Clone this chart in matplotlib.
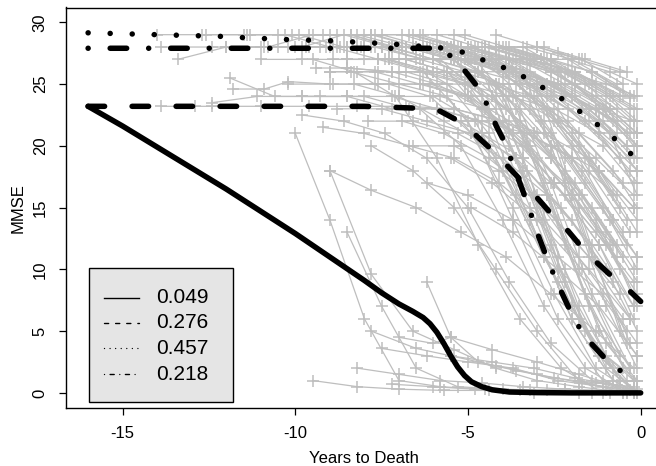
import matplotlib
matplotlib.use("Agg")
import matplotlib.pyplot as plt
from matplotlib.patches import Rectangle

plt.rcParams['font.family'] = ['Liberation Sans', 'DejaVu Sans']
plt.rcParams['axes.unicode_minus'] = False

# ---------------- data ----------------
legend_labels = ["0.049", "0.276", "0.457", "0.218"]
x_ticks = [-15, -10, -5, 0]
y_ticks = [0, 5, 10, 15, 20, 25, 30]

# class mean curves
early_t = [-16, -15, -14, -13, -12, -11, -10, -9, -8, -7.5, -7, -6.6, -6.3, -6.1, -5.9, -5.7, -5.5, -5.3,
           -5.1, -4.9, -4.6, -4.3, -3.8, -3.0, -2.0, -1.0, 0.0]
early_y = [23.2, 21.6, 19.9, 18.2, 16.5, 14.7, 12.9, 11.0, 9.1, 8.1, 7.2, 6.6, 6.1, 5.6, 4.9, 4.0, 3.0, 2.1,
           1.4, 0.9, 0.5, 0.25, 0.07, 0.02, 0.0, 0.0, 0.0]

moderate_t = [-16, -12, -8, -7, -6.5, -6.0, -5.8, -5.4, -5.0, -4.75, -4.4, -4.0, -3.5, -3.0, -2.5,
              -2.1, -1.8, -1.25, -0.9, -0.3, 0.0]
moderate_y = [23.2, 23.2, 23.2, 23.1, 23.05, 22.95, 22.8, 22.2, 21.4, 20.8, 19.9, 18.8, 17.3, 15.8,
              14.2, 13.1, 12.1, 10.5, 9.6, 8.2, 7.4]

stable_t = [-16, -14, -12, -11.45, -10.2, -8.9, -7.6, -6.96, -5.65, -5.02, -4.44, -3.83, -3.25,
            -2.7, -2.15, -1.63, -1.1, -0.64, -0.15, 0.0]
stable_y = [29.15, 29.0, 28.85, 28.75, 28.6, 28.5, 28.3, 28.2, 27.9, 27.5, 26.8, 26.2, 25.4,
            24.5, 23.6, 22.5, 21.4, 20.3, 19.0, 18.7]

fast_t = [-16, -12, -8, -6.0, -5.8, -5.45, -5.07, -4.73, -4.44, -4.18, -3.94, -3.7, -3.5, -3.3,
          -3.0, -2.7, -2.4, -2.1, -1.8, -1.4, -1.0, -0.5, -0.2]
fast_y = [27.9, 27.9, 27.9, 27.9, 27.75, 27.2, 26.0, 24.8, 23.3, 21.6, 20.3, 18.5, 17.0, 15.5,
          13.0, 10.8, 8.8, 7.0, 5.4, 3.9, 2.7, 1.6, 1.2]

# individual subject trajectories: (years to death, MMSE)
stable_subjects = [
    [(-14.0, 29), (-12.7, 29), (-11.4, 29), (-10.1, 29), (-8.8, 29), (-7.5, 29), (-6.2, 28), (-4.9, 28), (-3.6, 27), (-2.3, 26), (-1.0, 24), (-0.2, 22)],
    [(-13.9, 28), (-12.4, 28), (-11.0, 28), (-9.6, 28), (-8.2, 28), (-6.9, 28), (-5.5, 28), (-4.1, 27), (-2.7, 25), (-1.3, 23), (-0.1, 20)],
    [(-13.4, 27), (-12.0, 28), (-10.5, 28), (-9.1, 28), (-7.7, 28), (-6.3, 27), (-4.9, 27), (-3.5, 25), (-2.1, 23), (-0.6, 19)],
    [(-12.6, 29), (-11.3, 29), (-9.9, 29), (-8.6, 28), (-7.3, 28), (-6.0, 28), (-4.6, 27), (-3.3, 27), (-1.9, 25), (-0.4, 21)],
    [(-12.0, 28), (-10.8, 28), (-9.5, 29), (-8.2, 29), (-6.8, 28), (-5.5, 28), (-4.2, 28), (-2.9, 27), (-1.5, 25), (-0.3, 23)],
    [(-11.5, 29), (-10.3, 29), (-9.0, 28), (-7.8, 28), (-6.5, 28), (-5.2, 27), (-3.9, 26), (-2.6, 24), (-1.2, 21), (-0.1, 17)],
    [(-10.9, 28), (-9.7, 28), (-8.5, 28), (-7.2, 28), (-5.9, 28), (-4.6, 27), (-3.3, 26), (-2.0, 24), (-0.7, 22)],
    [(-10.5, 29), (-9.2, 29), (-8.0, 29), (-6.7, 29), (-5.4, 28), (-4.1, 28), (-2.8, 27), (-1.4, 26), (-0.2, 24)],
    [(-10.0, 28), (-8.8, 28), (-7.5, 28), (-6.3, 27), (-5.0, 27), (-3.7, 26), (-2.4, 25), (-1.1, 22), (-0.1, 19)],
    [(-9.6, 29), (-8.4, 29), (-7.1, 28), (-5.8, 28), (-4.5, 28), (-3.2, 27), (-1.9, 26), (-0.5, 24)],
    [(-9.3, 28), (-8.0, 28), (-6.8, 28), (-5.5, 27), (-4.2, 27), (-2.9, 25), (-1.6, 22), (-0.3, 18)],
    [(-9.0, 29), (-7.8, 29), (-6.5, 28), (-5.2, 28), (-3.9, 27), (-2.6, 26), (-1.3, 24), (-0.1, 21)],
    [(-8.7, 28), (-7.5, 28), (-6.2, 28), (-5.0, 28), (-3.7, 27), (-2.4, 26), (-1.1, 23), (-0.2, 20)],
    [(-8.4, 29), (-7.2, 28), (-5.9, 28), (-4.6, 28), (-3.3, 28), (-2.0, 27), (-0.7, 25)],
    [(-8.1, 28), (-6.9, 28), (-5.6, 28), (-4.3, 27), (-3.0, 25), (-1.7, 23), (-0.4, 20)],
    [(-7.8, 29), (-6.6, 29), (-5.3, 28), (-4.0, 28), (-2.7, 27), (-1.4, 25), (-0.2, 23)],
    [(-7.5, 28), (-6.3, 28), (-5.1, 27), (-3.8, 27), (-2.5, 25), (-1.2, 22), (-0.1, 18)],
    [(-7.2, 27), (-6.0, 27), (-4.8, 27), (-3.5, 26), (-2.2, 24), (-0.9, 21), (-0.1, 16)],
    [(-6.9, 29), (-5.7, 28), (-4.5, 28), (-3.2, 27), (-1.9, 26), (-0.6, 24)],
    [(-6.6, 28), (-5.4, 28), (-4.2, 28), (-2.9, 27), (-1.6, 25), (-0.3, 22)],
    [(-6.3, 29), (-5.1, 29), (-3.9, 28), (-2.6, 27), (-1.3, 25), (-0.1, 23)],
    [(-6.0, 27), (-4.8, 27), (-3.6, 26), (-2.3, 25), (-1.0, 23), (-0.1, 20)],
    [(-5.7, 28), (-4.5, 28), (-3.3, 27), (-2.0, 26), (-0.8, 24)],
    [(-5.4, 29), (-4.2, 28), (-3.0, 28), (-1.7, 27), (-0.5, 25)],
    [(-5.0, 28), (-3.8, 27), (-2.6, 26), (-1.4, 24), (-0.2, 21)],
    [(-4.6, 27), (-3.4, 27), (-2.2, 26), (-1.0, 25), (-0.1, 24)],
    [(-4.2, 29), (-3.0, 28), (-1.8, 27), (-0.6, 26)],
    [(-3.8, 28), (-2.6, 27), (-1.4, 26), (-0.3, 24)],
    [(-3.3, 27), (-2.1, 27), (-0.9, 26), (-0.1, 25)],
    [(-2.8, 28), (-1.6, 27), (-0.4, 26)],
    [(-2.4, 27.5), (-0.3, 23.9)],
    [(-13.9, 23.2), (-12.9, 23.2), (-12.4, 23.2), (-11.0, 23.2), (-9.6, 23.2), (-8.2, 23.2), (-6.8, 23.2), (-5.4, 23), (-4.0, 22), (-2.6, 20), (-1.2, 18), (-0.2, 15)],
    [(-11.8, 24.6), (-10.9, 24.6), (-10.2, 25.2), (-9.0, 25), (-7.7, 25), (-6.4, 25), (-5.1, 25), (-3.8, 24), (-2.5, 23), (-1.2, 21), (-0.1, 18)],
    [(-10.2, 25.0), (-8.9, 25), (-7.6, 25), (-6.3, 25), (-5.0, 24), (-3.7, 24), (-2.4, 22), (-1.1, 20), (-0.2, 17)],
    [(-9.4, 26.3), (-8.5, 26.3), (-7.2, 26), (-5.9, 26), (-4.6, 26), (-3.3, 25), (-2.0, 24), (-0.8, 22)],
    [(-12.4, 23.5), (-11.1, 24), (-9.8, 24), (-8.5, 24), (-7.2, 24), (-5.9, 23), (-4.6, 22), (-3.3, 21), (-2.0, 19), (-0.7, 16)],
    [(-11.9, 25.5), (-10.6, 24), (-9.3, 24), (-8.0, 24), (-6.7, 23), (-5.4, 23), (-4.1, 22), (-2.8, 21), (-1.5, 19), (-0.2, 15)],
    [(-9.8, 28), (-8.6, 29), (-7.3, 28), (-6.1, 28), (-4.8, 27), (-3.5, 27), (-2.2, 25), (-0.9, 23), (-0.1, 21)],
    [(-8.9, 27), (-7.6, 27), (-6.4, 27), (-5.1, 26), (-3.8, 26), (-2.5, 24), (-1.2, 22), (-0.2, 19)],
    [(-7.7, 29), (-6.5, 28), (-5.2, 28), (-3.9, 27), (-2.6, 25), (-1.3, 23), (-0.3, 21)],
    [(-7.0, 28), (-5.8, 28), (-4.5, 27), (-3.2, 26), (-1.9, 24), (-0.7, 21)],
    [(-6.5, 27), (-5.3, 27), (-4.0, 26), (-2.7, 24), (-1.5, 22), (-0.3, 19)],
    [(-5.9, 29), (-4.7, 28), (-3.4, 28), (-2.1, 26), (-0.9, 24), (-0.1, 22)],
    [(-5.1, 27), (-3.9, 26), (-2.7, 25), (-1.5, 23), (-0.4, 20)],
    [(-4.4, 28), (-3.1, 27), (-1.9, 25), (-0.7, 23)],
    [(-3.6, 26), (-2.4, 25), (-1.2, 23), (-0.2, 22)],
    [(-11.0, 27), (-9.8, 27), (-8.5, 27), (-7.3, 27), (-6.0, 26), (-4.7, 26), (-3.4, 24), (-2.1, 22), (-0.8, 18), (-0.1, 15)],
    [(-8.2, 26), (-7.0, 26), (-5.7, 26), (-4.4, 25), (-3.1, 24), (-1.8, 21), (-0.5, 17)],
    [(-2.0, 25), (-0.9, 23), (-0.1, 21)],
]

moderate_subjects = [
    [(-8.5, 27), (-7.3, 27), (-6.0, 26), (-4.8, 25), (-3.5, 22), (-2.2, 18), (-1.0, 13), (-0.1, 9)],
    [(-8.0, 28), (-6.8, 28), (-5.5, 27), (-4.2, 25), (-3.0, 21), (-1.7, 16), (-0.5, 11)],
    [(-7.6, 26), (-6.4, 26), (-5.1, 25), (-3.9, 23), (-2.6, 19), (-1.3, 14), (-0.2, 8)],
    [(-7.2, 28), (-6.0, 27), (-4.7, 26), (-3.5, 23), (-2.2, 19), (-0.9, 14), (-0.1, 11)],
    [(-6.8, 27), (-5.6, 26), (-4.3, 24), (-3.1, 21), (-1.8, 16), (-0.6, 10)],
    [(-6.4, 29), (-5.2, 28), (-4.0, 26), (-2.7, 23), (-1.5, 18), (-0.3, 13)],
    [(-6.0, 27), (-4.8, 26), (-3.6, 24), (-2.4, 20), (-1.1, 15), (-0.1, 10)],
    [(-5.6, 28), (-4.4, 27), (-3.2, 24), (-2.0, 20), (-0.8, 14)],
    [(-5.2, 26), (-4.0, 25), (-2.8, 22), (-1.6, 17), (-0.4, 12)],
    [(-4.8, 28), (-3.6, 26), (-2.4, 23), (-1.2, 18), (-0.1, 13)],
    [(-4.4, 27), (-3.2, 25), (-2.0, 21), (-0.8, 16)],
    [(-4.0, 26), (-2.8, 23), (-1.6, 19), (-0.4, 14)],
    [(-9.0, 26), (-7.7, 26), (-6.4, 25), (-5.1, 24), (-3.8, 21), (-2.5, 17), (-1.2, 12), (-0.2, 6)],
    [(-9.8, 24), (-8.5, 24), (-7.2, 23), (-5.9, 23), (-4.6, 21), (-3.3, 18), (-2.0, 14), (-0.8, 9)],
    [(-8.8, 23), (-7.5, 23), (-6.2, 22), (-4.9, 21), (-3.6, 19), (-2.3, 15), (-1.0, 10), (-0.1, 5)],
    [(-7.0, 24), (-5.8, 24), (-4.5, 23), (-3.2, 20), (-2.0, 16), (-0.7, 11)],
    [(-5.9, 23), (-4.7, 22), (-3.4, 20), (-2.2, 17), (-0.9, 12), (-0.1, 7)],
    [(-5.0, 24), (-3.8, 22), (-2.6, 19), (-1.4, 15), (-0.2, 10)],
    [(-3.6, 25), (-2.4, 22), (-1.2, 18), (-0.1, 14)],
    [(-3.0, 24), (-1.8, 20), (-0.6, 15)],
    [(-9.2, 21.5), (-8.0, 21), (-6.7, 20), (-5.4, 19), (-4.1, 17), (-2.8, 14), (-1.5, 10), (-0.3, 6)],
    [(-7.9, 22), (-6.6, 22), (-5.3, 21), (-4.0, 19), (-2.7, 16), (-1.4, 12), (-0.2, 7)],
    [(-6.6, 20), (-5.4, 20), (-4.1, 18), (-2.8, 15), (-1.5, 11), (-0.3, 6)],
    [(-4.6, 21), (-3.4, 19), (-2.2, 16), (-1.0, 12), (-0.1, 8)],
    [(-2.5, 22), (-1.3, 19), (-0.2, 16)],
    [(-8.5, 26.3), (-7.2, 26), (-5.9, 25), (-4.6, 23), (-3.3, 20), (-2.0, 16), (-0.8, 12)],
    [(-9.0, 18), (-7.8, 16.4), (-6.5, 15), (-5.2, 13), (-3.9, 11), (-2.6, 8), (-1.3, 5), (-0.2, 2)],
    [(-6.2, 17), (-5.0, 16), (-3.7, 14), (-2.4, 11), (-1.1, 8), (-0.1, 4)],
    [(-7.4, 27), (-6.2, 26), (-5.0, 24), (-3.7, 21), (-2.5, 17), (-1.2, 12), (-0.2, 7)],
    [(-6.1, 25), (-4.9, 24), (-3.7, 21), (-2.5, 17), (-1.3, 13), (-0.2, 9)],
    [(-5.3, 27), (-4.1, 25), (-2.9, 22), (-1.7, 18), (-0.5, 13)],
    [(-4.3, 24), (-3.1, 21), (-1.9, 17), (-0.7, 12)],
    [(-3.2, 23), (-2.0, 19), (-0.8, 14), (-0.1, 11)],
    [(-8.3, 25), (-7.0, 24), (-5.7, 22), (-4.4, 20), (-3.1, 16), (-1.8, 11), (-0.5, 6)],
    [(-6.9, 22), (-5.7, 21), (-4.4, 19), (-3.1, 16), (-1.8, 12), (-0.6, 8)],
    [(-5.5, 19), (-4.3, 17), (-3.0, 14), (-1.7, 10), (-0.4, 5)],
    [(-4.9, 15), (-3.7, 13), (-2.4, 10), (-1.2, 7), (-0.1, 3)],
]

fast_subjects = [
    [(-7.5, 28), (-6.3, 28), (-5.1, 27), (-3.9, 24), (-2.7, 16), (-1.5, 7), (-0.3, 2)],
    [(-7.0, 27), (-5.8, 27), (-4.6, 24), (-3.4, 18), (-2.2, 10), (-1.0, 3), (-0.1, 1)],
    [(-6.6, 28), (-5.4, 27), (-4.2, 23), (-3.0, 15), (-1.8, 6), (-0.6, 1)],
    [(-6.2, 26), (-5.0, 25), (-3.8, 20), (-2.6, 12), (-1.4, 4), (-0.2, 0)],
    [(-5.8, 28), (-4.6, 26), (-3.4, 19), (-2.2, 9), (-1.0, 2), (-0.1, 0)],
    [(-5.4, 27), (-4.2, 24), (-3.0, 16), (-1.8, 7), (-0.6, 1)],
    [(-5.0, 28), (-3.8, 25), (-2.6, 17), (-1.4, 8), (-0.3, 2)],
    [(-4.6, 26), (-3.4, 21), (-2.2, 12), (-1.0, 4), (-0.1, 1)],
    [(-8.0, 27), (-6.8, 27), (-5.6, 26), (-4.4, 22), (-3.2, 14), (-2.0, 6), (-0.8, 1)],
    [(-8.5, 28), (-7.3, 28), (-6.0, 27), (-4.8, 25), (-3.6, 19), (-2.4, 10), (-1.2, 3), (-0.1, 0)],
    [(-7.3, 25), (-6.1, 24), (-4.9, 21), (-3.7, 15), (-2.5, 8), (-1.3, 2), (-0.2, 0)],
    [(-6.0, 24), (-4.8, 22), (-3.6, 16), (-2.4, 9), (-1.2, 3), (-0.1, 0)],
    [(-9.8, 22.5), (-8.6, 22), (-7.4, 21), (-6.2, 19), (-5.0, 15), (-3.8, 9), (-2.6, 4), (-1.4, 1), (-0.2, 0)],
    [(-9.0, 26), (-8.4, 26), (-7.0, 25), (-5.6, 24), (-4.2, 19), (-2.8, 11), (-1.4, 4), (-0.2, 1)],
    [(-4.2, 25), (-3.0, 19), (-1.8, 10), (-0.6, 3)],
    [(-3.8, 27), (-2.6, 20), (-1.4, 11), (-0.3, 4)],
    [(-10.2, 28), (-8.9, 28), (-7.6, 27), (-6.3, 26), (-5.0, 22), (-3.7, 14), (-2.4, 6), (-1.1, 1), (-0.1, 0)],
    [(-7.8, 20), (-6.6, 18), (-5.4, 15), (-4.2, 10), (-3.0, 5), (-1.8, 1), (-0.5, 0)],
    [(-5.2, 22), (-4.0, 18), (-2.8, 11), (-1.6, 5), (-0.4, 1)],
    [(-9.5, 27), (-8.3, 26), (-7.1, 24), (-5.9, 19), (-4.7, 12), (-3.5, 6), (-2.3, 2), (-1.1, 0), (-0.1, 0)],
    [(-3.4, 26), (-2.2, 17), (-1.0, 7), (-0.1, 2)],
    [(-6.8, 26), (-5.6, 25), (-4.4, 21), (-3.2, 14), (-2.0, 6), (-0.8, 1), (-0.1, 0)],
    [(-5.6, 26), (-4.4, 23), (-3.2, 15), (-2.0, 7), (-0.8, 2)],
    [(-4.8, 27), (-3.6, 23), (-2.4, 14), (-1.2, 5), (-0.2, 1)],
    [(-4.0, 24), (-2.8, 17), (-1.6, 8), (-0.5, 2)],
    [(-3.0, 25), (-1.8, 15), (-0.6, 5), (-0.1, 3)],
    [(-6.4, 23), (-5.2, 20), (-4.0, 14), (-2.8, 7), (-1.6, 2), (-0.4, 0)],
    [(-2.6, 21), (-1.5, 12), (-0.4, 4)],
]

early_subjects = [
    [(-9.5, 1), (-8.2, 0.5), (-7.0, 0.3), (-5.7, 0.2), (-4.4, 0.2), (-3.1, 0), (-1.8, 0), (-0.5, 0), (-0.1, 0)],
    [(-7.8, 5), (-6.5, 3.6), (-5.5, 3), (-4.2, 2.2), (-3.0, 1.5), (-1.7, 0.8), (-0.3, 0.2)],
    [(-7.5, 3.6), (-6.2, 3.0), (-5.0, 2.5), (-3.7, 2.0), (-2.4, 1.0), (-1.1, 0.5), (-0.1, 0)],
    [(-7.0, 4.5), (-6.0, 4.0), (-5.5, 4.5), (-4.3, 3.5), (-3.0, 2.5), (-1.8, 1.5), (-0.6, 0.5)],
    [(-9.0, 18), (-7.8, 9.6), (-6.6, 5), (-5.4, 3.5), (-4.2, 2.0), (-3.0, 1), (-1.8, 0.5), (-0.4, 0)],
    [(-7.2, 0.7), (-6.0, 0.5), (-4.8, 0.3), (-3.5, 0.2), (-2.2, 0.3), (-1.0, 0.2), (-0.1, 0.3)],
    [(-8.5, 13), (-7.5, 7), (-6.5, 2), (-5.3, 0.5), (-4.0, 0.3), (-2.7, 0.2), (-1.4, 0), (-0.2, 0)],
    [(-10.0, 21), (-9.0, 14), (-8.0, 6), (-7.0, 1), (-5.8, 0.5), (-4.5, 0.3), (-3.2, 0.2)],
    [(-6.2, 9), (-5.5, 4.5), (-4.7, 2.5), (-3.6, 1.8), (-2.5, 1.2), (-1.3, 0.8), (-0.2, 0.5)],
    [(-5.5, 3), (-4.3, 2.5), (-3.1, 2), (-1.9, 1.2), (-0.7, 0.6)],
    [(-8.2, 2), (-7.0, 1.5), (-5.8, 1), (-4.6, 0.8), (-3.4, 0.5), (-2.2, 0.3), (-0.9, 0)],
]

# ---------------- figure ----------------
W, H = 656, 466
fig = plt.figure(figsize=(W / 100, H / 100), dpi=100)
ax = fig.add_axes([66 / W, (H - 407.7) / H, (662.8 - 66) / W, (407.7 - 7.5) / H])

gray = "#BEBEBE"
for group in (stable_subjects, moderate_subjects, fast_subjects, early_subjects):
    for subj in group:
        t = [p[0] for p in subj]
        y = [p[1] for p in subj]
        ax.plot(t, y, color=gray, lw=0.9, marker='+', markersize=8,
                markeredgewidth=1.1, zorder=2)

LW = 3.96
common = dict(color='black', lw=LW, zorder=5, solid_capstyle='round',
              dash_capstyle='round', solid_joinstyle='round')
ax.plot(early_t, early_y, linestyle='-', **common)
ax.plot(moderate_t, moderate_y, linestyle=(0, (3, 5)), **common)
ax.plot(stable_t, stable_y, linestyle=(0, (0.01, 4)), **common)
ax.plot(fast_t, fast_y, linestyle=(0, (0.01, 4, 3, 4)), **common)

ax.set_xlim(-16.64, 0.64)
ax.set_ylim(-1.2, 31.2)
ax.set_xticks(x_ticks)
ax.set_xticklabels([str(v) for v in x_ticks])
ax.set_yticks(y_ticks)
ax.set_yticklabels([str(v) for v in y_ticks], rotation=90, va='center')
ax.tick_params(axis='both', length=5.2, width=0.9, labelsize=12, color='black')
ax.tick_params(axis='x', pad=8)
ax.tick_params(axis='y', pad=8)
for s in ax.spines.values():
    s.set_linewidth(1.0)
ax.set_xlabel("Years to Death", fontsize=12, labelpad=7)
ax.set_ylabel("MMSE", fontsize=12, labelpad=5)

# legend box
ax.add_patch(Rectangle((-15.97, -0.70), 4.17, 10.85, facecolor='#E5E5E5',
                       edgecolor='black', lw=1.0, zorder=8))
leg_rows = [7.69, 5.67, 3.60, 1.52]
leg_styles = ['-', (0, (3, 5)), (0, (0.01, 4)), (0, (0.01, 4, 3, 4))]
for yy, st, lab in zip(leg_rows, leg_styles, legend_labels):
    ax.plot([-15.54, -14.52], [yy, yy], color='black', lw=1.0, linestyle=st,
            dash_capstyle='round', zorder=9)
    ax.text(-14.03, yy, lab, fontsize=15, va='center', ha='left', zorder=9)

fig.savefig("out.png", dpi=100)
